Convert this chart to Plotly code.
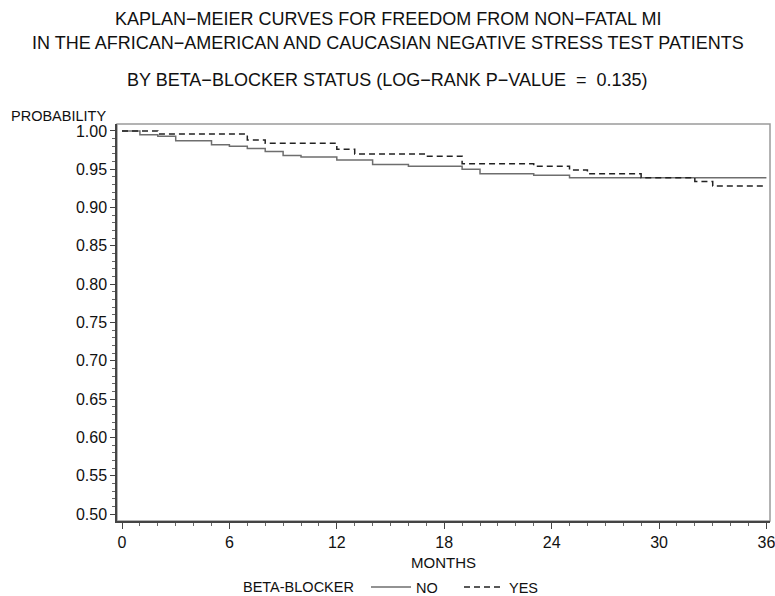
import plotly.graph_objects as go

# Kaplan-Meier step data (months, survival probability)
no_months = [0, 1, 2, 3, 5, 6, 7, 8, 9, 10, 12, 14, 16, 19, 20, 23, 25, 36]
no_surv = [1.000, 0.995, 0.993, 0.987, 0.982, 0.980, 0.977, 0.973, 0.968, 0.966,
           0.962, 0.956, 0.954, 0.950, 0.944, 0.942, 0.939, 0.939]

yes_months = [0, 2, 7, 8, 12, 13, 17, 19, 23, 25, 26, 29, 32, 33, 36]
yes_surv = [1.000, 0.996, 0.988, 0.984, 0.976, 0.970, 0.967, 0.957, 0.954,
            0.949, 0.944, 0.939, 0.934, 0.928, 0.928]

x_ticks = [0, 6, 12, 18, 24, 30, 36]
y_ticks = [0.50, 0.55, 0.60, 0.65, 0.70, 0.75, 0.80, 0.85, 0.90, 0.95, 1.00]

title_lines = [
    "KAPLAN\u2212MEIER CURVES FOR FREEDOM FROM NON\u2212FATAL MI",
    "IN THE AFRICAN\u2212AMERICAN AND CAUCASIAN NEGATIVE STRESS TEST PATIENTS",
    "BY BETA\u2212BLOCKER STATUS (LOG\u2212RANK P\u2212VALUE &nbsp;= &nbsp;0.135)",
]

FONT = "Liberation Sans, Arial, sans-serif"
W, H = 775, 596
ML, MR, MT, MB = 117, 5, 124, 75
PW, PH = W - ML - MR, H - MT - MB


def px_x(x):
    return (x - ML) / PW


def px_y(y):
    return (H - MB - y) / PH


fig = go.Figure()
fig.add_trace(go.Scatter(
    x=no_months, y=no_surv, mode="lines", name="NO",
    line=dict(shape="hv", color="#6e6e6e", width=1.5),
))
fig.add_trace(go.Scatter(
    x=yes_months, y=yes_surv, mode="lines", name="YES",
    line=dict(shape="hv", color="#222222", width=1.5, dash="6px,4px"),
))

# frame (top/right borders in gray)
fig.add_shape(type="rect", xref="paper", yref="paper", x0=0, x1=1, y0=0, y1=1,
              line=dict(color="#9a9a9a", width=1.5), layer="below")

for txt, ypx in zip(title_lines, [19, 43, 80]):
    fig.add_annotation(text=txt, xref="paper", yref="paper",
                       x=px_x(387.5), xanchor="center",
                       y=px_y(ypx), yanchor="middle",
                       showarrow=False, font=dict(family=FONT, size=18, color="#111"))

fig.add_annotation(text="PROBABILITY", xref="paper", yref="paper",
                   x=px_x(108), xanchor="right",
                   y=px_y(116), yanchor="middle",
                   showarrow=False, font=dict(family=FONT, size=14.5, color="#111"))

# legend title
fig.add_annotation(text="BETA-BLOCKER", xref="paper", yref="paper",
                   x=px_x(241), xanchor="left",
                   y=px_y(587), yanchor="middle",
                   showarrow=False, font=dict(family=FONT, size=14.5, color="#111"))

fig.update_layout(
    width=W, height=H,
    margin=dict(l=ML, r=MR, t=MT, b=MB, autoexpand=False),
    paper_bgcolor="white", plot_bgcolor="white",
    font=dict(family=FONT, size=16, color="#111"),
    showlegend=True,
    legend=dict(
        orientation="h", xref="container", yref="container",
        x=366 / W, xanchor="left", y=1 - 587 / H, yanchor="middle",
        font=dict(size=14.5), itemwidth=40, entrywidth=38,
        bgcolor="rgba(0,0,0,0)",
    ),
    xaxis=dict(
        range=[-0.28, 36.2], tickvals=x_ticks, ticks="outside", ticklen=6,
        tickcolor="#444", showline=True, linecolor="#444", linewidth=1.5,
        showgrid=False, zeroline=False, ticklabeloverflow="allow",
        minor=dict(dtick=1, tick0=0, ticks="outside", ticklen=3, tickcolor="#666", showgrid=False),
        title=dict(text="MONTHS", font=dict(size=15), standoff=8),
        tickfont=dict(size=16),
    ),
    yaxis=dict(
        range=[0.491, 1.009], tickvals=y_ticks, tickformat=".2f", ticks="outside",
        ticklen=5, tickcolor="#444", showline=True, linecolor="#444", linewidth=1.5,
        showgrid=False, zeroline=False,
        minor=dict(dtick=0.01, tick0=0.5, ticks="outside", ticklen=3, tickcolor="#666", showgrid=False),
        tickfont=dict(size=16),
    ),
)

fig.write_html("out.html", config={"displayModeBar": False},
               post_script="document.body.style.margin='0';document.body.style.padding='0';")
